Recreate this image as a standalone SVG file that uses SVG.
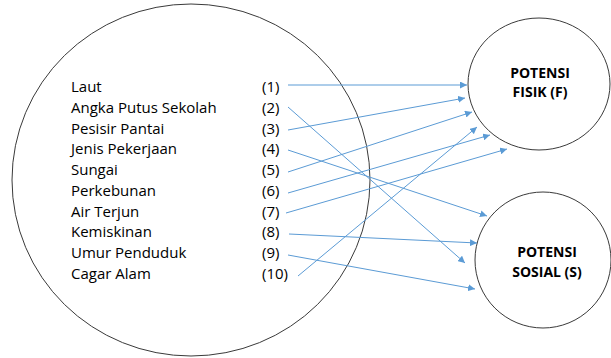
<svg xmlns="http://www.w3.org/2000/svg" width="611" height="358" viewBox="0 0 611 358">
<defs>
<style>
.node{fill:#fff;stroke:#3a3a3a;stroke-width:1}
.lbl{font-family:"Open Sans","Liberation Sans",sans-serif;font-size:15px;fill:#000}
.ttl{font-family:"Open Sans","Liberation Sans",sans-serif;font-size:14px;font-weight:bold;fill:#000;text-anchor:middle}
.arr{stroke:#5b9bd5;stroke-width:1;fill:none;marker-end:url(#ah)}
</style>
<marker id="ah" viewBox="0 0 10 10" refX="10" refY="5" markerWidth="7" markerHeight="7" markerUnits="userSpaceOnUse" orient="auto">
<path d="M0,0 L10,5 L0,10 z" fill="#5b9bd5"/>
</marker>
</defs>
<rect width="611" height="358" fill="#fff"/>
<g id="sumber">
<ellipse class="node" cx="191" cy="180" rx="179" ry="176"/>
<text class="lbl" x="71" y="92">Laut</text>
<text class="lbl" x="71" y="113">Angka Putus Sekolah</text>
<text class="lbl" x="71" y="134">Pesisir Pantai</text>
<text class="lbl" x="71" y="154">Jenis Pekerjaan</text>
<text class="lbl" x="71" y="175">Sungai</text>
<text class="lbl" x="71" y="196">Perkebunan</text>
<text class="lbl" x="71" y="217">Air Terjun</text>
<text class="lbl" x="71" y="237">Kemiskinan</text>
<text class="lbl" x="71" y="258">Umur Penduduk</text>
<text class="lbl" x="71" y="279">Cagar Alam</text>
<text class="lbl" x="262" y="92">(1)</text>
<text class="lbl" x="262" y="113">(2)</text>
<text class="lbl" x="262" y="134">(3)</text>
<text class="lbl" x="262" y="154">(4)</text>
<text class="lbl" x="262" y="175">(5)</text>
<text class="lbl" x="262" y="196">(6)</text>
<text class="lbl" x="262" y="217">(7)</text>
<text class="lbl" x="262" y="237">(8)</text>
<text class="lbl" x="262" y="258">(9)</text>
<text class="lbl" x="262" y="279">(10)</text>
</g>
<g id="fisik">
<ellipse class="node" cx="539" cy="84" rx="71" ry="66"/>
<text class="ttl" x="540" y="78">POTENSI</text>
<text class="ttl" x="540" y="97">FISIK (F)</text>
</g>
<g id="sosial">
<ellipse class="node" cx="543" cy="260" rx="68" ry="68"/>
<text class="ttl" x="547" y="257">POTENSI</text>
<text class="ttl" x="547" y="277">SOSIAL (S)</text>
</g>
<g id="connectors">
<line class="arr" x1="288" y1="85" x2="467" y2="85"/>
<line class="arr" x1="288" y1="107" x2="465" y2="263"/>
<line class="arr" x1="288" y1="130" x2="465" y2="98"/>
<line class="arr" x1="288" y1="150" x2="487" y2="216"/>
<line class="arr" x1="288" y1="172" x2="472" y2="112"/>
<line class="arr" x1="288" y1="193" x2="490" y2="135"/>
<line class="arr" x1="286" y1="213" x2="507" y2="149"/>
<line class="arr" x1="289" y1="234" x2="477" y2="243"/>
<line class="arr" x1="288" y1="255" x2="475" y2="289"/>
<line class="arr" x1="298" y1="276" x2="477" y2="127"/>
</g>
</svg>
